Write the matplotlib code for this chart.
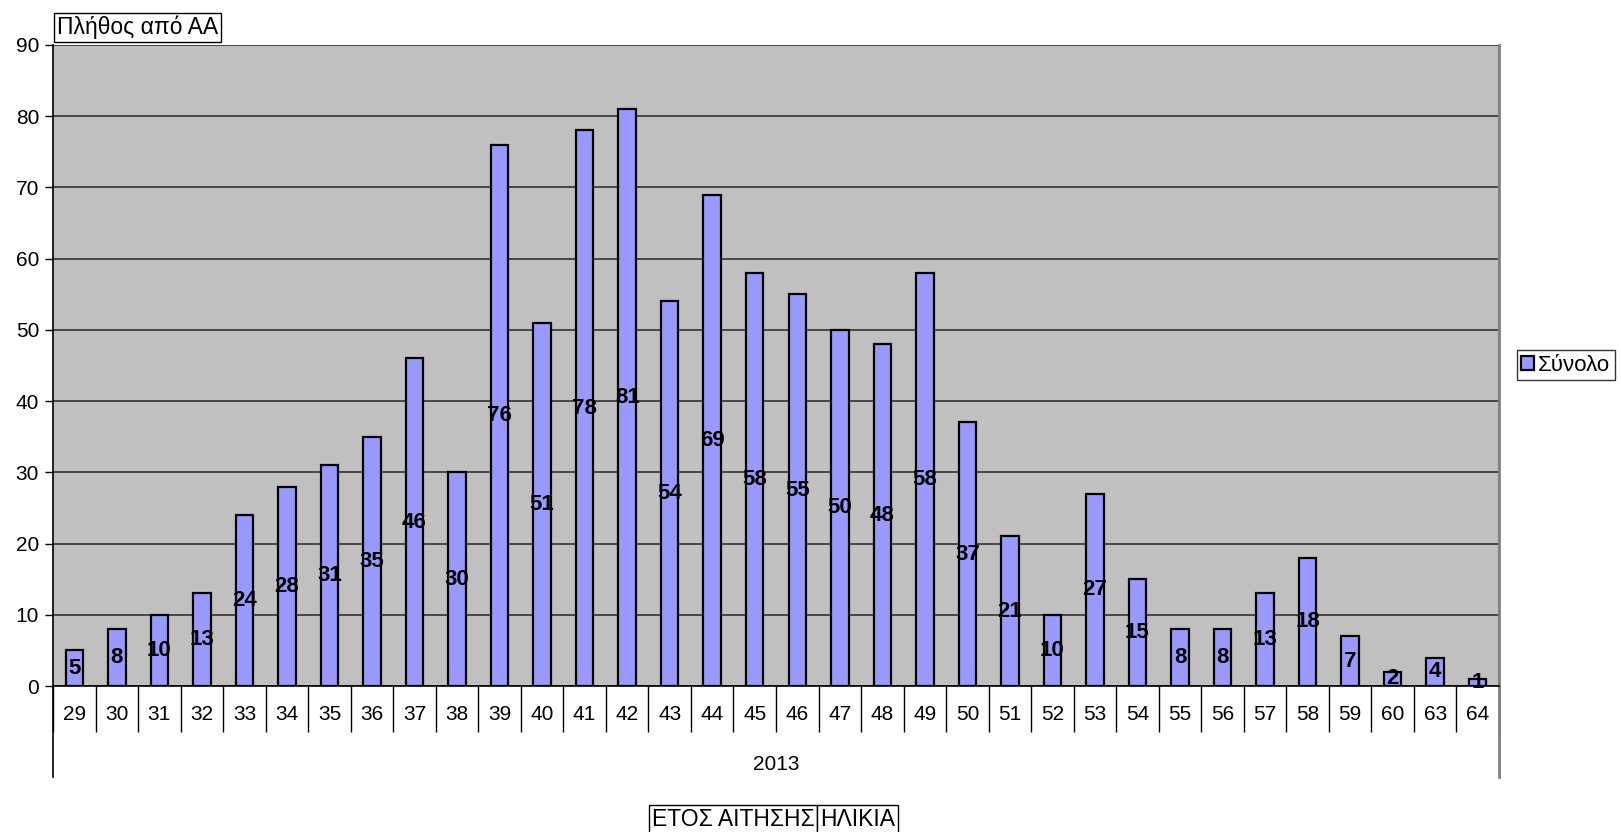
import matplotlib
matplotlib.use("Agg")
import matplotlib.pyplot as plt
import numpy as np

ages = ["29", "30", "31", "32", "33", "34", "35", "36", "37", "38", "39", "40",
        "41", "42", "43", "44", "45", "46", "47", "48", "49", "50", "51", "52",
        "53", "54", "55", "56", "57", "58", "59", "60", "63", "64"]
counts = [5, 8, 10, 13, 24, 28, 31, 35, 46, 30, 76, 51,
          78, 81, 54, 69, 58, 55, 50, 48, 58, 37, 21, 10,
          27, 15, 8, 8, 13, 18, 7, 2, 4, 1]
year_label = "2013"
series_name = "Σύνολο"
y_title = "Πλήθος από ΑΑ"
field_buttons = ["ΕΤΟΣ ΑΙΤΗΣΗΣ", "ΗΛΙΚΙΑ"]

plt.rcParams['font.family'] = ['Liberation Sans', 'DejaVu Sans']

W, H = 1621, 832
fig = plt.figure(figsize=(W / 100, H / 100), dpi=100)
left, right, top, bottom = 53, 1499, 45, 686
ax = fig.add_axes([left / W, 1 - bottom / H, (right - left) / W, (bottom - top) / H])
ax.set_facecolor("#C0C0C0")

x = np.arange(len(ages))
bars = ax.bar(x, counts, width=0.41, color="#9999FF", edgecolor="black",
              linewidth=1.6, zorder=3, label=series_name)
for xi, c in zip(x, counts):
    ax.text(xi, c / 2, str(c), ha="center", va="center", fontsize=16,
            fontweight="bold", zorder=4)

ax.set_xlim(-0.5, len(ages) - 0.5)
ax.set_ylim(0, 90)
ax.set_yticks(range(0, 91, 10))
ax.yaxis.grid(True, color="#333333", linewidth=1.2, zorder=1)
ax.tick_params(axis="y", labelsize=15, length=6, width=1, direction="out", pad=4)

# category labels, separators as minor ticks
ax.set_xticks(x)
ax.set_xticklabels(ages, fontsize=15)
ax.tick_params(axis="x", which="major", length=0, pad=14)
ax.set_xticks(np.arange(-0.5, len(ages) - 0.4, 1), minor=True)
ax.tick_params(axis="x", which="minor", length=33, width=1, direction="out")

ax.spines["top"].set_visible(False)
ax.spines["right"].set_color("#808080")
ax.spines["right"].set_linewidth(2)
ax.spines["left"].set_linewidth(1.2)
ax.spines["bottom"].set_linewidth(1.2)

# group label row (year)
ext = (777 - bottom) / (bottom - top)
ax.plot([0, 0], [0, -ext], transform=ax.transAxes, color="black", lw=1.2, clip_on=False)
ax.plot([1, 1], [0, -ext], transform=ax.transAxes, color="#808080", lw=2, clip_on=False)
ax.text(0.5, -(764 - bottom) / (bottom - top), year_label, transform=ax.transAxes,
        ha="center", va="center", fontsize=15)

box = dict(boxstyle="square,pad=0.12", facecolor="white", edgecolor="black", lw=1)

# y title box
fig.text(57 / W, 1 - 27 / H, y_title, ha="left", va="center", fontsize=16.5, bbox=box)

# field buttons at bottom, second one placed right after the first
b1 = fig.text(652 / W, 1 - 819 / H, field_buttons[0], ha="left", va="center",
              fontsize=16.5, bbox=box)
b2 = fig.text(0, 1 - 819 / H, field_buttons[1], ha="left", va="center",
              fontsize=16.5, bbox=box)
fig.canvas.draw()
r = fig.canvas.get_renderer()
e1 = b1.get_bbox_patch().get_window_extent(r)
e2 = b2.get_bbox_patch().get_window_extent(r)
b2.set_x((e1.x1 - e2.x0) / W)

leg = fig.legend(handles=[bars], labels=[series_name], loc="center left",
                 bbox_to_anchor=(1517 / W, 1 - 365 / H), fontsize=16, frameon=True,
                 fancybox=False, edgecolor="black", handlelength=0.55, handleheight=0.6,
                 handletextpad=0.2, borderpad=0.2, borderaxespad=0)
leg.get_frame().set_linewidth(1)

fig.savefig("out.png", dpi=100)
